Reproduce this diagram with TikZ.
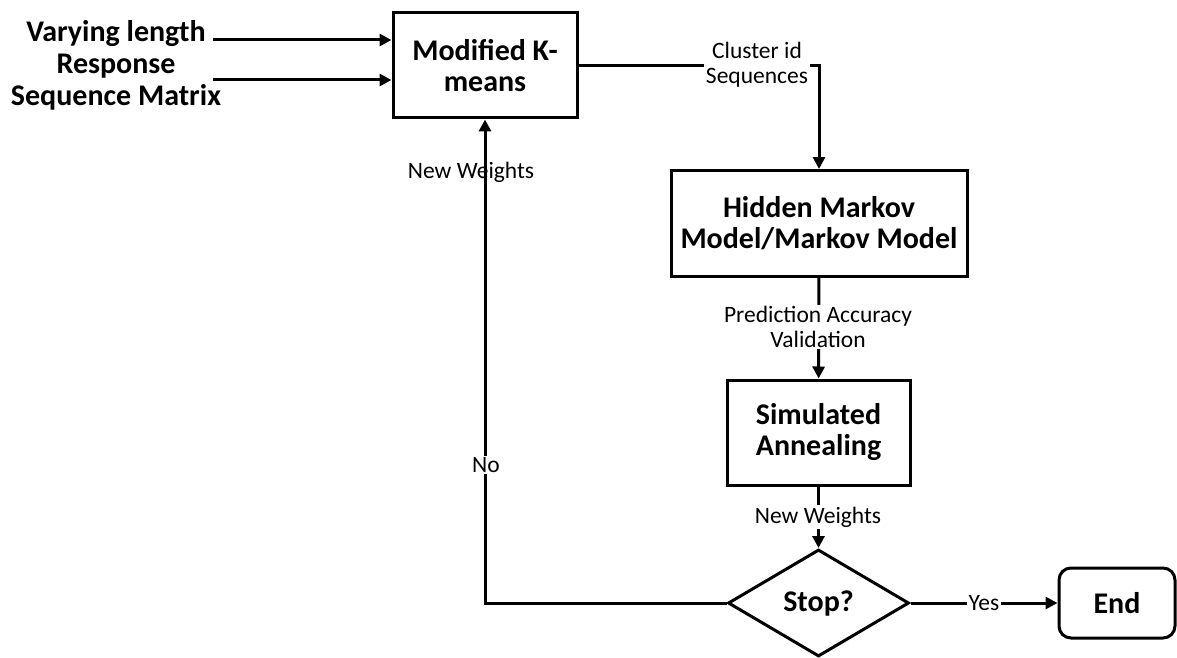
\documentclass[tikz,border=0pt]{standalone}
\usepackage{fontspec}
\setmainfont{Carlito}
\usetikzlibrary{shapes.geometric,arrows.meta}

\begin{document}
\begin{tikzpicture}[x=1pt,y=-1pt,
  box/.style={draw, line width=3pt, rectangle, inner sep=0pt, align=center,
    font=\fontsize{30}{31}\selectfont\bfseries},
  decision/.style={draw, line width=3pt, diamond, inner sep=0pt,
    font=\fontsize{30}{31}\selectfont\bfseries},
  terminal/.style={box, rounded corners=12pt},
  conn/.style={line width=3pt, -{Triangle[length=12pt,width=12pt]}},
  lbl/.style={font=\fontsize{23.5}{25}\selectfont, align=center, inner sep=1.5pt},
  lblw/.style={lbl, fill=white}
]
\useasboundingbox (0,0) rectangle (1177,658);

% input data description
\node[align=center, font=\fontsize{30}{32}\selectfont\bfseries] (input) at (116,65)
  {Varying length\\Response\\Sequence Matrix};
\coordinate (in1) at (213,40);
\coordinate (in2) at (213,80);

% process blocks
\node[box, minimum width=184pt, minimum height=105pt] (km) at (485,65.5)
  {Modified K-\\means};
\node[box, minimum width=296pt, minimum height=106pt] (hmm) at (819,223.5)
  {Hidden Markov\\Model/Markov Model};
\node[box, minimum width=183pt, minimum height=105pt] (sa) at (818.5,432.5)
  {Simulated\\Annealing};
\node[decision, minimum width=181pt, minimum height=107pt] (stop) at (818.5,603)
  {Stop?};
\node[terminal, minimum width=116pt, minimum height=70pt] (end) at (1117,603)
  {End};

% connectors
\draw[conn] (in1) -- (in1 -| km.west);
\draw[conn] (in2) -- (in2 -| km.west);
\draw[conn] (km.east) -| (hmm.north);
\draw[conn] (hmm) -- (sa);
\draw[conn] (sa) -- (stop);
\draw[conn] (stop) -- (end);
\draw[conn] (stop.west) -| (km.south);

% connector labels
\node[lblw] (lcl) at (757,64.5) {Cluster id\\Sequences};
\node[lblw] (lpa) at (818,327) {Prediction Accuracy\\Validation};
\node[lblw] (lnw2) at (818,517) {New Weights};
\node[lblw] (lno) at (486,465) {No};
\node[lblw] (lyes) at (984,603) {Yes};
\node[lbl] (lnw1) at (471,172) {New Weights};
\end{tikzpicture}
\end{document}
